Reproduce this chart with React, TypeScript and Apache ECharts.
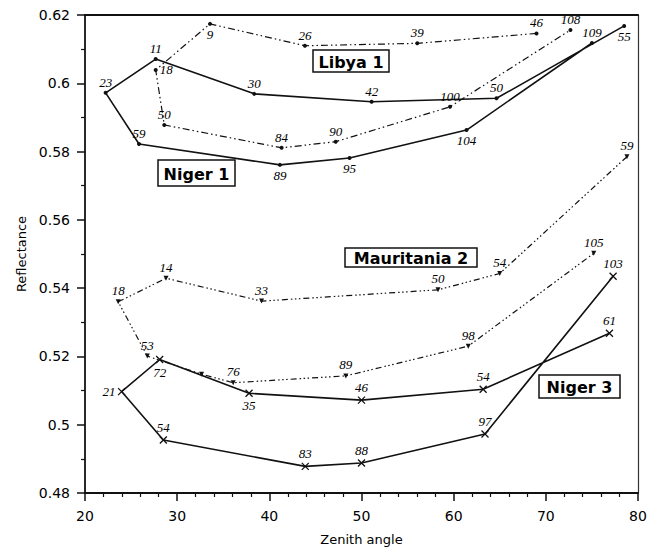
import React, { useEffect, useRef } from "react";
import * as echarts from "echarts";

// ---- data (zenith angle, reflectance) in drawing order ----
const niger1Points = [
  [78.5, 0.6168], [64.65, 0.5956], [51.1, 0.5946], [38.36, 0.5969], [27.67, 0.6071],
  [22.24, 0.5972], [25.86, 0.5822], [41.15, 0.5761], [48.7, 0.5781], [61.4, 0.5863], [75.0, 0.6118],
];
const niger1Labels = ["55", "50", "42", "30", "11", "23", "59", "89", "95", "104", "109"];
const niger1LabelPos = ["bottom", "top", "top", "top", "top", "top", "top", "bottom", "bottom", "bottom", "top"];

const libya1Points = [
  [68.99, 0.6146], [56.05, 0.6117], [43.86, 0.611], [33.56, 0.6174], [27.67, 0.6039],
  [28.6, 0.5878], [41.33, 0.5811], [47.2, 0.5829], [59.6, 0.5931], [72.67, 0.6156],
];
const libya1Labels = ["46", "39", "26", "9", "18", "50", "84", "90", "100", "108"];
const libya1LabelPos = ["top", "top", "top", "bottom", "right", "top", "top", "top", "top", "top"];

const mauritania2Points = [
  [78.8, 0.5785], [65.0, 0.5443], [58.3, 0.5395], [39.16, 0.5362], [28.79, 0.5429], [23.6, 0.536],
  [26.76, 0.5201], [32.65, 0.5148], [36.08, 0.5123], [48.3, 0.5143], [61.58, 0.523], [75.2, 0.5502],
];
const mauritania2Labels = ["59", "54", "50", "33", "14", "18", "53", "", "76", "89", "98", "105"];
const mauritania2LabelPos = ["top", "top", "top", "top", "top", "top", "top", "top", "top", "top", "top", "top"];

const niger3Points = [
  [76.9, 0.5268], [63.2, 0.5104], [50.0, 0.5072], [37.8, 0.5092], [28.1, 0.5191], [23.97, 0.5097],
  [28.5, 0.4955], [43.9, 0.4878], [50.0, 0.4888], [63.4, 0.4973], [77.3, 0.5435],
];
const niger3Labels = ["61", "54", "46", "35", "72", "21", "54", "83", "88", "97", "103"];
const niger3LabelPos = ["top", "top", "top", "bottom", "bottom", "left", "top", "top", "top", "top", "top"];

const xTickLabels = ["20", "30", "40", "50", "60", "70", "80"];
const yTickLabels = ["0.48", "0.5", "0.52", "0.54", "0.56", "0.58", "0.6", "0.62"];

const boxNames = ["Libya 1", "Niger 1", "Mauritania 2", "Niger 3"];

const INK = "#111";

function makeData(points: number[][], labels: string[], pos: string[]) {
  return points.map((p, i) => ({
    value: p,
    label: {
      show: labels[i] !== "",
      formatter: labels[i],
      position: pos[i],
      distance: 2,
    },
  }));
}

const labelStyle = {
  fontFamily: "Liberation Serif",
  fontStyle: "italic" as const,
  fontSize: 13,
  color: "#000",
};

function boxGraphic(name: string, x: number, y: number, w: number, h: number) {
  return {
    type: "group",
    z: 100,
    children: [
      {
        type: "rect",
        shape: { x, y, width: w, height: h },
        style: { fill: "#fff", stroke: INK, lineWidth: 1.5 },
      },
      {
        type: "text",
        style: {
          text: name,
          x: x + w / 2,
          y: y + h / 2 + 1,
          textAlign: "center",
          textVerticalAlign: "middle",
          font: 'bold 16px "DejaVu Sans"',
          fill: "#000",
        },
      },
    ],
  };
}

export default function App() {
  const ref = useRef<HTMLDivElement>(null);
  useEffect(() => {
    document.body.style.margin = "0";
    const chart = echarts.init(ref.current!, null, { renderer: "svg" });
    const dashA = [7, 3, 1.5, 3, 1.5, 3];
    const dashB = [6, 3, 1.5, 2.5, 1.5, 2.5, 1.5, 3];
    chart.setOption({
      animation: false,
      backgroundColor: "#fff",
      grid: { left: 85, right: 18, top: 15, bottom: 62 },
      xAxis: [
        {
          type: "value",
          min: 20,
          max: 80,
          interval: 10,
          name: "Zenith angle",
          nameLocation: "middle",
          nameGap: 40,
          nameTextStyle: { fontFamily: "DejaVu Sans", fontSize: 13, color: "#000" },
          axisLine: { show: true, lineStyle: { color: INK, width: 1.8 } },
          axisTick: { show: true, length: 8, lineStyle: { color: INK, width: 1.5 } },
          minorTick: { show: true, splitNumber: 5, length: 4, lineStyle: { color: INK, width: 1.2 } },
          splitLine: { show: false },
          axisLabel: {
            margin: 16,
            fontFamily: "DejaVu Sans",
            fontSize: 14,
            color: "#000",
            formatter: (v: number) => xTickLabels[Math.round((v - 20) / 10)] ?? String(v),
          },
        },
        {
          type: "value",
          position: "top",
          min: 20,
          max: 80,
          interval: 10,
          axisLine: { show: true, lineStyle: { color: INK, width: 2 } },
          axisTick: { show: false },
          axisLabel: { show: false },
          splitLine: { show: false },
        },
      ],
      yAxis: [
        {
          type: "value",
          min: 0.48,
          max: 0.62,
          interval: 0.02,
          name: "Reflectance",
          nameLocation: "middle",
          nameGap: 57,
          nameTextStyle: { fontFamily: "DejaVu Sans", fontSize: 13, color: "#000" },
          axisLine: { show: true, lineStyle: { color: INK, width: 1.8 } },
          axisTick: { show: true, length: 8, lineStyle: { color: INK, width: 1.5 } },
          minorTick: { show: true, splitNumber: 2, length: 4, lineStyle: { color: INK, width: 1.2 } },
          splitLine: { show: false },
          axisLabel: {
            margin: 15,
            fontFamily: "DejaVu Sans",
            fontSize: 14,
            color: "#000",
            formatter: (v: number) => yTickLabels[Math.round((v - 0.48) / 0.02)] ?? String(v),
          },
        },
        {
          type: "value",
          position: "right",
          min: 0.48,
          max: 0.62,
          interval: 0.02,
          axisLine: { show: true, lineStyle: { color: "#333", width: 1.2 } },
          axisTick: { show: false },
          axisLabel: { show: false },
          splitLine: { show: false },
        },
      ],
      series: [
        {
          name: "Niger 1",
          type: "line",
          data: makeData(niger1Points, niger1Labels, niger1LabelPos),
          symbol: "circle",
          symbolSize: 4,
          itemStyle: { color: INK },
          lineStyle: { color: INK, width: 1.6 },
          label: labelStyle,
        },
        {
          name: "Libya 1",
          type: "line",
          data: makeData(libya1Points, libya1Labels, libya1LabelPos),
          symbol: "circle",
          symbolSize: 4,
          itemStyle: { color: INK },
          lineStyle: { color: INK, width: 1.2, type: dashA },
          label: labelStyle,
        },
        {
          name: "Mauritania 2",
          type: "line",
          data: makeData(mauritania2Points, mauritania2Labels, mauritania2LabelPos),
          symbol: "triangle",
          symbolRotate: 180,
          symbolSize: 5,
          itemStyle: { color: INK },
          lineStyle: { color: INK, width: 1.2, type: dashB },
          label: labelStyle,
        },
        {
          name: "Niger 3",
          type: "line",
          data: makeData(niger3Points, niger3Labels, niger3LabelPos),
          symbol: "path://M0 0L10 10M10 0L0 10",
          symbolSize: 7,
          itemStyle: { color: INK, borderColor: INK, borderWidth: 1.3 },
          lineStyle: { color: INK, width: 1.6 },
          label: labelStyle,
        },
      ],
      graphic: [
        boxGraphic(boxNames[0], 313, 50, 76, 22),
        boxGraphic(boxNames[1], 158, 160, 77, 26),
        boxGraphic(boxNames[2], 345, 248, 132, 19),
        boxGraphic(boxNames[3], 539, 375, 81, 23),
      ],
    });
    return () => chart.dispose();
  }, []);
  return <div ref={ref} style={{ width: 656, height: 555 }} />;
}
